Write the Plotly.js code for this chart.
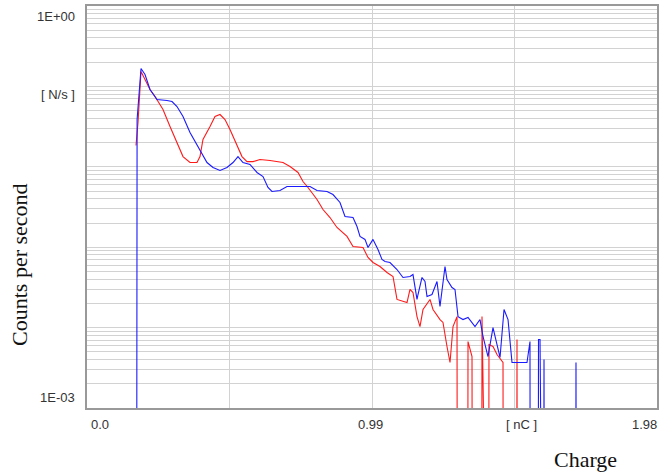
<!DOCTYPE html>
<html>
<head>
<meta charset="utf-8">
<script src="https://cdn.plot.ly/plotly-3.0.1.min.js"></script>
<style>html,body{margin:0;padding:0;background:#fff;}#chart{width:659px;height:473px;}</style>
</head>
<body>
<div id="chart"></div>
<script>
// Charge in nC, counts per second (0 counts shown as a tiny floor value on the log axis)
var ZERO = 1e-9;

var blueCharge = [0.172,0.174,0.1876,0.2015,0.2188,0.2432,0.2779,0.2953,0.3126,0.3335,0.3578,0.3925,0.4168,0.4377,0.4620,0.4863,0.5072,0.5245,0.5419,0.5662,0.5905,0.6114,0.6287,0.6426,0.6704,0.6947,0.7746,0.7990,0.8337,0.8545,0.8788,0.8962,0.9240,0.9379,0.9483,0.9657,0.9761,0.9935,1.0108,1.0247,1.0352,1.0525,1.0768,1.0977,1.1220,1.1324,1.1463,1.1498,1.1637,1.1741,1.1811,1.1984,1.2158,1.2262,1.2436,1.2505,1.2679,1.2783,1.2888,1.3061,1.3235,1.3478,1.3652,1.3756,1.3929,1.4103,1.4242,1.4347,1.4486,1.4625,1.4763,1.5284,1.5388,1.5400,1.5667,1.5684,1.5736,1.5753,1.5857,1.5875,1.5892,1.6969,1.6986,1.7004];
var blueCounts = [ZERO,0.0387,0.167,0.1406,0.0915,0.0687,0.0668,0.0649,0.0562,0.0422,0.0267,0.0164,0.0113,0.0098,0.0090,0.0098,0.0113,0.0134,0.0113,0.0107,0.0085,0.00757,0.00553,0.00493,0.00507,0.00569,0.00569,0.00507,0.00493,0.00452,0.00360,0.00241,0.00234,0.00181,0.00136,0.00125,0.00099,0.00125,0.000936,0.000703,0.000664,0.000645,0.000528,0.000420,0.000432,0.000457,0.000224,0.000258,0.000420,0.000374,0.000244,0.000258,0.000374,0.000183,0.000575,0.000396,0.000315,0.000298,0.000137,0.000126,0.000134,0.000103,0.000126,0.0000775,0.0000437,0.000100,0.0000582,0.0000425,0.000168,0.000126,0.0000368,0.0000368,0.0000671,ZERO,ZERO,0.0000711,0.0000711,ZERO,ZERO,0.0000401,ZERO,ZERO,0.0000368,ZERO];

var redCharge = [0.1702,0.1772,0.1876,0.2015,0.2188,0.2362,0.2640,0.2883,0.3126,0.3335,0.3578,0.3821,0.3925,0.4029,0.4273,0.4446,0.4620,0.4794,0.4967,0.5211,0.5384,0.5558,0.5766,0.6009,0.6357,0.6808,0.7052,0.7330,0.7503,0.7677,0.7990,0.8198,0.8441,0.8684,0.9032,0.9240,0.9587,0.9761,0.9935,1.0178,1.0421,1.0630,1.0768,1.1116,1.1220,1.1324,1.1463,1.1567,1.1672,1.1915,1.2019,1.2262,1.2366,1.2505,1.2610,1.2714,1.2853,1.2870,1.3217,1.3235,1.3374,1.3391,1.3704,1.3721,1.3739,1.3947,1.3964,1.4103,1.4242,1.4451,1.4468,1.4920,1.4937,1.4954];
var redCounts = [0.0184,0.0356,0.153,0.122,0.0915,0.0749,0.0516,0.0317,0.0201,0.0134,0.0113,0.0113,0.0134,0.0219,0.0317,0.0422,0.0447,0.0387,0.0291,0.0179,0.0134,0.0116,0.0116,0.0123,0.0120,0.0113,0.0101,0.0085,0.00656,0.00553,0.00392,0.00294,0.00234,0.00176,0.00136,0.00102,0.00099,0.000745,0.000645,0.000575,0.000485,0.000432,0.000224,0.000205,0.000298,0.000273,0.000137,0.000103,0.000168,0.000224,0.000168,0.000126,0.000116,0.0000582,0.0000368,0.000103,0.000137,ZERO,ZERO,0.0000671,0.0000437,ZERO,ZERO,0.000137,ZERO,ZERO,0.0000616,0.0000582,0.0000463,0.0000368,ZERO,ZERO,0.0000711,ZERO];

var yTickLabels = ['1E+00', '[ N/s ]', '1E-03'];
var xTickLabels = ['0.0', '0.99', '[ nC ]', '1.98'];
var xTitle = 'Charge';
var yTitle = 'Counts per second';

var traces = [
  {x: redCharge, y: redCounts, type: 'scatter', mode: 'lines', line: {color: '#ff1a1a', width: 1.1}, hoverinfo: 'skip'},
  {x: blueCharge, y: blueCounts, type: 'scatter', mode: 'lines', line: {color: '#1a1aff', width: 1.1}, hoverinfo: 'skip'}
];

var tickFont = {family: 'Liberation Sans, Arial, sans-serif', size: 13, color: '#333'};
var titleFont = {family: 'Liberation Serif, Times New Roman, serif', size: 22, color: '#111'};

var layout = {
  width: 659, height: 473,
  margin: {l: 87, r: 2, t: 6, b: 65, pad: 0},
  paper_bgcolor: '#fff', plot_bgcolor: '#fff',
  showlegend: false,
  xaxis: {
    range: [0, 1.98], tick0: 0, dtick: 0.495, showticklabels: false, ticks: '',
    showgrid: true, gridcolor: '#d2d2d2', gridwidth: 1, zeroline: false,
    showline: true, linecolor: '#999999', linewidth: 2, mirror: true, fixedrange: true
  },
  yaxis: {
    type: 'log', range: [-5, 0], dtick: 'D1', showticklabels: false, ticks: '',
    showgrid: true, gridcolor: '#d2d2d2', gridwidth: 1, zeroline: false,
    showline: true, linecolor: '#999999', linewidth: 2, mirror: true, fixedrange: true
  },
  annotations: [
    {text: yTickLabels[0], xref: 'paper', yref: 'paper', x: -0.0175, y: 0.975, xanchor: 'right', yanchor: 'middle', showarrow: false, font: tickFont},
    {text: yTickLabels[1], xref: 'paper', yref: 'paper', x: -0.0175, y: 0.781, xanchor: 'right', yanchor: 'middle', showarrow: false, font: tickFont},
    {text: yTickLabels[2], xref: 'paper', yref: 'paper', x: -0.0175, y: 0.025, xanchor: 'right', yanchor: 'middle', showarrow: false, font: tickFont},
    {text: xTickLabels[0], xref: 'paper', yref: 'paper', x: 0.0035, y: -0.040, xanchor: 'left', yanchor: 'middle', showarrow: false, font: tickFont},
    {text: xTickLabels[1], xref: 'paper', yref: 'paper', x: 0.4965, y: -0.040, xanchor: 'center', yanchor: 'middle', showarrow: false, font: tickFont},
    {text: xTickLabels[2], xref: 'paper', yref: 'paper', x: 0.763, y: -0.040, xanchor: 'center', yanchor: 'middle', showarrow: false, font: tickFont},
    {text: xTickLabels[3], xref: 'paper', yref: 'paper', x: 1.0035, y: -0.040, xanchor: 'right', yanchor: 'middle', showarrow: false, font: tickFont},
    {text: xTitle, xref: 'paper', yref: 'paper', x: 0.8737, y: -0.129, xanchor: 'center', yanchor: 'middle', showarrow: false, font: titleFont},
    {text: yTitle, xref: 'paper', yref: 'paper', x: -0.1175, y: 0.356, xanchor: 'center', yanchor: 'middle', textangle: -90, showarrow: false, font: titleFont}
  ]
};

Plotly.newPlot('chart', traces, layout, {staticPlot: true, displayModeBar: false});
</script>
</body>
</html>
